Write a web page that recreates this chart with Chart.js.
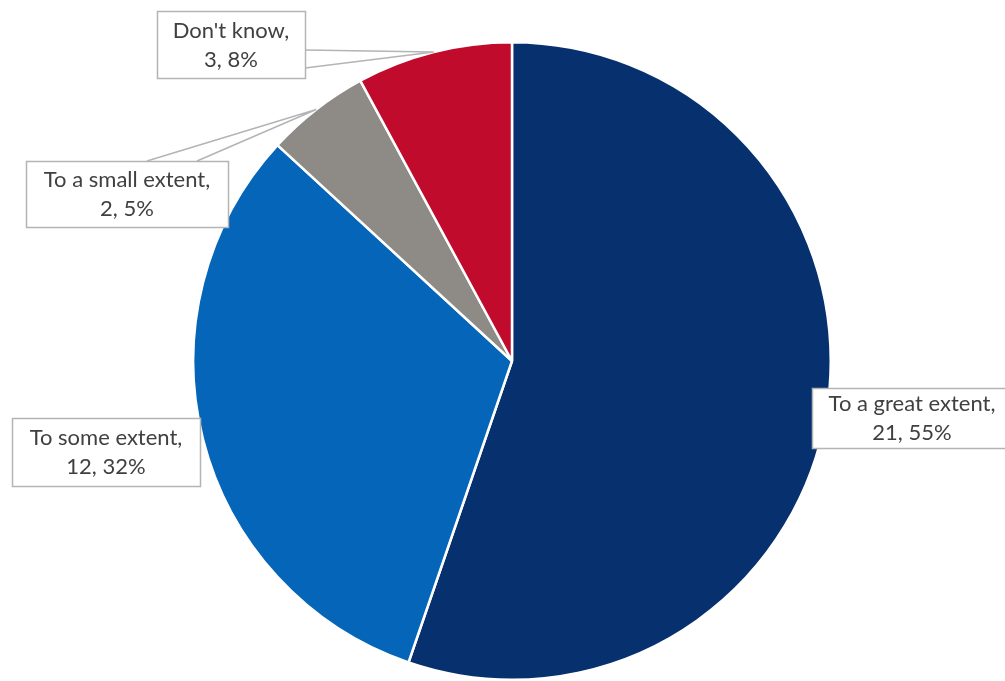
<!DOCTYPE html>
<html>
<head>
<meta charset="utf-8">
<script src="https://cdn.jsdelivr.net/npm/chart.js@4.4.1/dist/chart.umd.min.js"></script>
<style>
  html, body { margin: 0; padding: 0; background: #fff; }
  #wrap { width: 1005px; height: 681px; position: relative; }
</style>
</head>
<body>
<div id="wrap"><canvas id="pieChart"></canvas></div>
<script>
const categories = ['To a great extent', 'To some extent', 'To a small extent', "Don't know"];
const counts = [21, 12, 2, 3];
const sliceColors = ['#06306e', '#0565b8', '#8e8b86', '#c10b2d'];

// callout boxes (canvas px) and where the leader leaves the box
const calloutBoxes = [
  { x: 812, y: 388, w: 200, h: 60 },
  { x: 12, y: 418, w: 188, h: 68 },
  { x: 26, y: 161, w: 202, h: 66, leader: [[147, 161], [197, 161]] },
  { x: 157, y: 11, w: 148, h: 67, leader: [[305, 50], [305, 68]] }
];

const total = counts.reduce((a, b) => a + b, 0);

const calloutPlugin = {
  id: 'callouts',
  afterDatasetsDraw(chart) {
    const ctx = chart.ctx;
    const arcs = chart.getDatasetMeta(0).data;
    ctx.save();
    arcs.forEach((arc, i) => {
      const box = calloutBoxes[i];
      const mid = (arc.startAngle + arc.endAngle) / 2;
      const ax = arc.x + Math.cos(mid) * arc.outerRadius;
      const ay = arc.y + Math.sin(mid) * arc.outerRadius;

      ctx.strokeStyle = '#b4b4b4';
      ctx.lineWidth = 1.5;
      if (box.leader) {
        ctx.beginPath();
        ctx.moveTo(box.leader[0][0], box.leader[0][1]);
        ctx.lineTo(ax, ay);
        ctx.lineTo(box.leader[1][0], box.leader[1][1]);
        ctx.stroke();
      }
      ctx.fillStyle = '#ffffff';
      ctx.fillRect(box.x, box.y, box.w, box.h);
      ctx.strokeRect(box.x + 0.5, box.y + 0.5, box.w, box.h);

      const pct = Math.round(counts[i] / total * 100);
      const cx = box.x + box.w / 2;
      const cy = box.y + box.h / 2;
      ctx.fillStyle = '#404040';
      ctx.font = '22px Lato, "DejaVu Sans", sans-serif';
      ctx.textAlign = 'center';
      ctx.textBaseline = 'middle';
      ctx.fillText(categories[i] + ',', cx, cy - 14);
      ctx.fillText(counts[i] + ', ' + pct + '%', cx, cy + 15);
    });
    ctx.restore();
  }
};

new Chart(document.getElementById('pieChart'), {
  type: 'pie',
  data: {
    labels: categories,
    datasets: [{
      data: counts,
      backgroundColor: sliceColors,
      borderColor: '#ffffff',
      borderWidth: 2.5
    }]
  },
  options: {
    responsive: true,
    maintainAspectRatio: false,
    animation: false,
    layout: { padding: { top: 41, bottom: 0, left: 19, right: 0 } },
    plugins: {
      legend: { display: false },
      tooltip: { enabled: false }
    }
  },
  plugins: [calloutPlugin]
});
</script>
</body>
</html>
